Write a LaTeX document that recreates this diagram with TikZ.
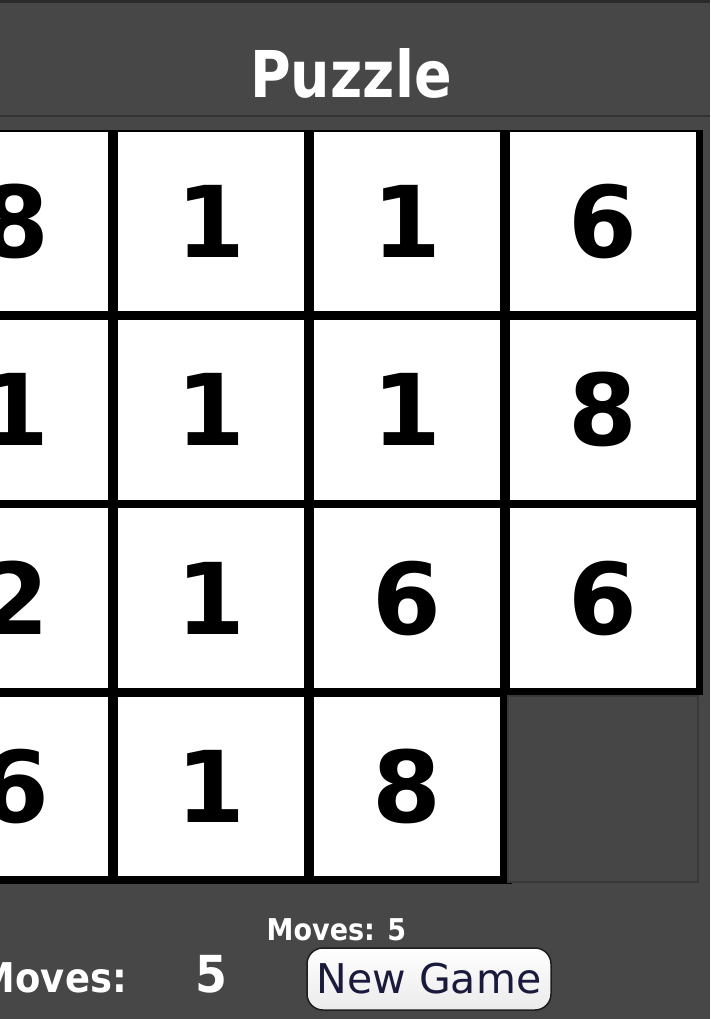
\documentclass[tikz,border=0pt]{standalone}
\usepackage{fontspec}
\setmainfont{DejaVu Sans}
\newfontfamily\narrowsans[FakeStretch=0.86]{DejaVu Sans}
\newfontfamily\smallsans[FakeStretch=0.9]{DejaVu Sans}
\definecolor{panel}{HTML}{474747}
\definecolor{rule}{HTML}{333333}
\definecolor{topline}{HTML}{2B2B2B}
\definecolor{slotfill}{HTML}{464646}
\definecolor{slotedge}{HTML}{393939}
\definecolor{btntext}{HTML}{1A1A3C}
\definecolor{btnedge}{HTML}{1E1E1E}
\begin{document}
\begin{tikzpicture}[x=1pt,y=-1pt,
  tile/.style={rectangle, fill=white, draw=black, line width=1.5pt,
    minimum width=187pt, minimum height=181pt, inner sep=0pt,
    font=\fontsize{99}{99}\selectfont\bfseries, text=black},
  slot/.style={rectangle, fill=slotfill, draw=slotedge, line width=2pt,
    minimum width=190pt, minimum height=186pt, inner sep=0pt},
  whitetext/.style={text=white, inner sep=0pt},
  button/.style={rectangle, rounded corners=16pt, draw=btnedge, line width=1.5pt,
    top color=white, bottom color=black!8, minimum width=244pt, minimum height=62pt,
    inner sep=0pt, text=btntext, font=\fontsize{41}{41}\selectfont}
]
\useasboundingbox (0,0) rectangle (710,1019);
\clip (0,0) rectangle (710,1019);
\fill[panel] (0,0) rectangle (710,1019);
\draw[topline, line width=3pt] (0,1.5) -- (710,1.5);
\draw[rule, line width=2.5pt] (0,116) -- (710,116);

\node[whitetext, anchor=base, font=\narrowsans\bfseries\fontsize{64.5}{64.5}\selectfont] (title) at (351,98) {Puzzle};

% black frame and shadows behind the tiles
\fill[black] (-100,130) rectangle (703,695);
\fill[black] (-100,695) rectangle (512,884);

% row 1
\node[tile] (t11) at (15,221.5) {8};
\node[tile] (t12) at (211,221.5) {1};
\node[tile] (t13) at (407,221.5) {1};
\node[tile] (t14) at (603,221.5) {6};
% row 2
\node[tile] (t21) at (15,409.8) {1};
\node[tile] (t22) at (211,409.8) {1};
\node[tile] (t23) at (407,409.8) {1};
\node[tile] (t24) at (603,409.8) {8};
% row 3
\node[tile] (t31) at (15,598.1) {2};
\node[tile] (t32) at (211,598.1) {1};
\node[tile] (t33) at (407,598.1) {6};
\node[tile] (t34) at (603,598.1) {6};
% row 4
\node[tile] (t41) at (15,786.4) {6};
\node[tile] (t42) at (211,786.4) {1};
\node[tile] (t43) at (407,786.4) {8};
\node[slot] (t44) at (603,788.5) {};

\node[whitetext, anchor=base, font=\smallsans\bfseries\fontsize{30}{30}\selectfont] (movessmall) at (336.5,940) {Moves: 5};
\node[whitetext, anchor=base east, font=\smallsans\bfseries\fontsize{41}{41}\selectfont] (moveslabel) at (127,992) {Moves:};
\node[whitetext, anchor=base, font=\smallsans\bfseries\fontsize{51}{51}\selectfont] (movesvalue) at (211.5,992) {5};
\node[button] (newgame) at (429,979) {New Game};
\end{tikzpicture}
\end{document}
